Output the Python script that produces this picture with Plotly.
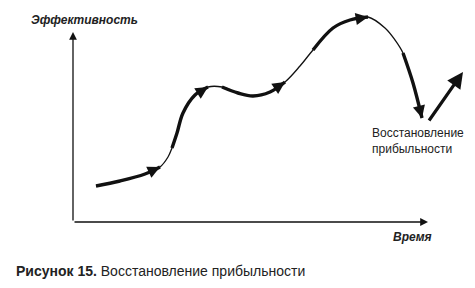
import plotly.graph_objects as go
import math

# Conceptual curve: time (x) vs effectiveness (y), origin at axes corner
time_pts = [23, 47, 72, 87, 95, 99, 104, 110, 122, 135, 149, 165, 180, 197, 212,
            227, 240, 260, 277, 295, 312, 322, 330, 340, 349]
eff_pts = [36, 41, 48, 55, 65, 74, 89, 109, 127, 135, 135, 129, 126, 130, 140,
           156, 172, 194, 202, 205, 194, 182, 169, 139, 104]

# thick stroke segments (start index, end index, arrow at end?)
thick_segments = [(0, 3, True), (5, 9, True), (10, 14, True), (16, 19, True), (22, 24, True)]

# recovery arrow
recovery_time = [355, 390]
recovery_eff = [100, 150]

axis_x_end = 355
axis_y_end = 190

label_y = "Эффективность"
label_x = "Время"
label_recovery = "Восстановление<br>прибыльности"
caption_bold = "Рисунок 15."
caption_rest = " Восстановление прибыльности"

FONT = "Liberation Sans, Arial, sans-serif"
INK = "#111111"

fig = go.Figure()

# thin full curve
fig.add_trace(go.Scatter(x=time_pts, y=eff_pts, mode="lines",
                         line=dict(color=INK, width=1.3, shape="spline", smoothing=1.0),
                         hoverinfo="skip"))

annotations = []
for s, e, arr in thick_segments:
    xs = time_pts[s:e + 1]
    ys = eff_pts[s:e + 1]
    fig.add_trace(go.Scatter(x=xs, y=ys, mode="lines",
                             line=dict(color=INK, width=3.4, shape="spline", smoothing=1.0),
                             hoverinfo="skip"))
    if arr:
        dx = xs[-1] - xs[-2]
        dy = ys[-1] - ys[-2]
        L = math.hypot(dx, dy)
        annotations.append(dict(x=xs[-1], y=ys[-1], ax=-dx / L * 8, ay=dy / L * 8,
                                axref="pixel", ayref="pixel", showarrow=True,
                                arrowhead=2, arrowsize=0.95, arrowwidth=2.6,
                                arrowcolor=INK, text="", standoff=0))

# recovery arrow
annotations.append(dict(x=recovery_time[1], y=recovery_eff[1], ax=recovery_time[0], ay=recovery_eff[0],
                        axref="x", ayref="y", xref="x", yref="y", showarrow=True,
                        arrowhead=2, arrowsize=1.0, arrowwidth=3.2, arrowcolor=INK, text=""))

# axes arrows
annotations.append(dict(x=0, y=axis_y_end, ax=0, ay=0, axref="x", ayref="y",
                        showarrow=True, arrowhead=2, arrowsize=1.2, arrowwidth=1.3,
                        arrowcolor=INK, text=""))
annotations.append(dict(x=axis_x_end, y=0, ax=0, ay=0, axref="x", ayref="y",
                        showarrow=True, arrowhead=2, arrowsize=1.2, arrowwidth=1.3,
                        arrowcolor=INK, text=""))

# text labels
annotations.append(dict(x=11, y=202, text="<b><i>" + label_y + "</i></b>", showarrow=False,
                        font=dict(family=FONT, size=12, color="#222")))
annotations.append(dict(x=339, y=-15, text="<b><i>" + label_x + "</i></b>", showarrow=False,
                        font=dict(family=FONT, size=12, color="#222")))
annotations.append(dict(x=297, y=81, text=label_recovery, showarrow=False, align="left",
                        xanchor="left", yanchor="middle",
                        font=dict(family=FONT, size=12, color="#222")))
annotations.append(dict(x=-59, y=-49, text="<b>" + caption_bold + "</b>" + caption_rest,
                        showarrow=False, xanchor="left",
                        font=dict(family=FONT, size=14, color="#222")))

fig.update_layout(
    width=475, height=288,
    margin=dict(l=0, r=0, t=0, b=0),
    paper_bgcolor="white", plot_bgcolor="white",
    showlegend=False,
    xaxis=dict(range=[-73, 402], visible=False, fixedrange=True),
    yaxis=dict(range=[-66, 222], visible=False, fixedrange=True),
    annotations=annotations,
)

fig.write_html("out.html")
